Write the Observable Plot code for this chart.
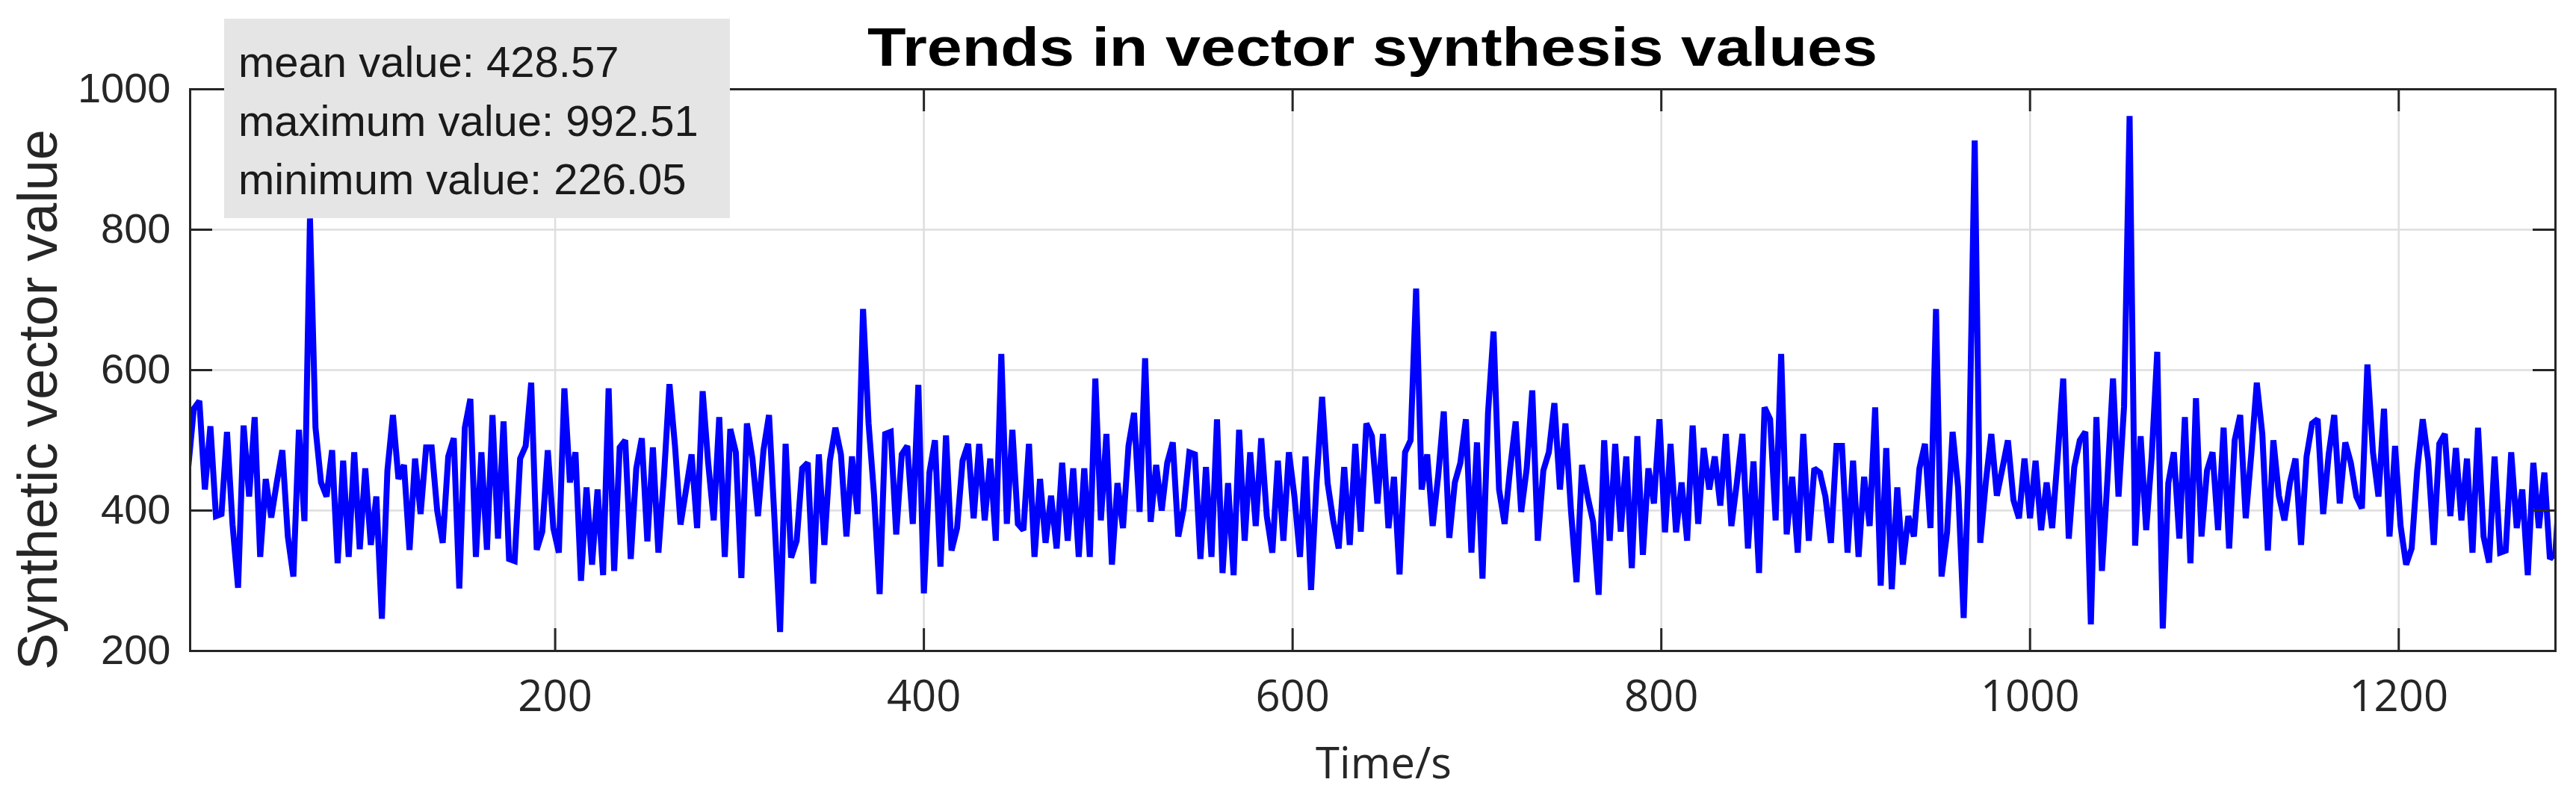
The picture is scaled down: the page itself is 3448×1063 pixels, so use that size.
<!DOCTYPE html>
<html>
<head>
<meta charset="utf-8">
<script src="https://cdn.jsdelivr.net/npm/d3@7"></script>
<script src="https://cdn.jsdelivr.net/npm/@observablehq/plot@0.6"></script>
<style>
html, body { margin: 0; padding: 0; background: #ffffff; }
#chart svg { display: block; }
</style>
</head>
<body>
<div id="chart"></div>
<script>
// ---- texts ----
const titleText = "Trends in vector synthesis values";
const xLabelText = "Time/s";
const yLabelText = "Synthetic vector value";
const statLines = ["mean value: 428.57", "maximum value: 992.51", "minimum value: 226.05"];

// ---- ticks ----
const xTicks = [200, 400, 600, 800, 1000, 1200];
const yTicks = [200, 400, 600, 800, 1000];
const xDomain = [2, 1285];
const yDomain = [200, 1000];

// ---- series: value read every 3 s starting at t = 1 ----
const tStart = 1;
const tStep = 3;
const values = [
  462, 545, 556, 430, 520, 392, 395, 512, 380, 290, 521, 420, 533, 334, 445, 390, 440, 486, 363, 306, 515, 385,
  816, 518, 440, 420, 486, 325, 471, 334, 483, 345, 460, 351, 420, 246, 457, 536, 445, 465, 344, 474, 395, 490,
  490, 400, 354, 477, 503, 289, 518, 559, 334, 483, 344, 536, 360, 527, 331, 328, 474, 492, 582, 344, 370, 486,
  375, 340, 574, 440, 483, 300, 433, 323, 430, 308, 574, 314, 490, 500, 331, 460, 503, 356, 490, 340, 448,
  580, 492, 380, 430, 480, 375, 570, 468, 386, 533, 334, 516, 483, 304, 524, 474, 392, 486, 536, 386, 227, 495,
  333, 357, 460, 468, 296, 480, 351, 471, 518, 480, 363, 477, 395, 687, 524, 421, 281, 509, 512, 366, 480,
  492, 381, 579, 282, 454, 500, 320, 507, 343, 375, 471, 495, 389, 495, 386, 474, 357, 623, 381, 515, 381, 372,
  495, 334, 445, 354, 421, 346, 468, 357, 460, 334, 460, 334, 588, 386, 509, 323, 439, 375, 492, 539, 398,
  617, 384, 465, 400, 468, 497, 363, 404, 483, 480, 331, 462, 334, 530, 311, 439, 308, 515, 357, 483, 378, 503,
  392, 340, 471, 357, 483, 420, 334, 477, 287, 440, 562, 439, 386, 346, 462, 351, 495, 370, 524, 506, 410, 509,
  375, 448, 309, 483, 500, 716, 430, 480, 378, 450, 541, 361, 440, 468, 530, 340, 497, 303, 539, 655, 430, 381,
  460, 527, 398, 460, 571, 357, 457, 483, 553, 430, 524, 400, 298, 465, 420, 384, 280, 500, 357, 495, 370,
  477, 318, 506, 337, 460, 410, 530, 369, 495, 369, 440, 357, 521, 381, 489, 430, 477, 407, 509, 378, 440, 509,
  346, 470, 311, 547, 530, 386, 623, 366, 448, 340, 509, 357, 460, 454, 420, 354, 492, 492, 340, 471, 334, 448,
  378, 547, 293, 489, 288, 433, 323, 392, 363, 460, 495, 375, 687, 306, 369, 512, 433, 247, 483, 927, 354, 440,
  509, 421, 460, 500, 415, 389, 474, 389, 471, 372, 440, 375, 477, 588, 360, 462, 500, 512, 238, 533, 314,
  445, 588, 420, 548, 962, 350, 506, 372, 477, 626, 232, 439, 483, 360, 533, 325, 560, 363, 457, 483, 372, 518,
  346, 500, 536, 389, 480, 582, 509, 343, 500, 421, 386, 440, 474, 351, 477, 524, 530, 395, 480, 536, 410,
  497, 468, 420, 403, 608, 483, 420, 545, 363, 492, 378, 323, 346, 457, 530, 471, 351, 495, 509, 392, 489, 386,
  474, 340, 518, 363, 326, 477, 340, 343, 483, 375, 430, 308, 468, 375, 454, 331, 340, 471
];
const series = values.map((v, i) => ({ t: tStart + i * tStep, v }));

// ---- layout ----
const W = 3448, H = 1063;
const mL = 254, mR = 28, mT = 119, mB = 192;
const fw = W - mL - mR, fh = H - mT - mB;
const tickLen = 30;
const axisColor = "#262626";
const gridColor = "#dedede";

const chart = Plot.plot({
  width: W,
  height: H,
  marginLeft: mL,
  marginRight: mR,
  marginTop: mT,
  marginBottom: mB,
  style: { background: "#ffffff", overflow: "visible" },
  x: { domain: xDomain, label: null },
  y: { domain: yDomain, label: null },
  marks: [
    Plot.gridX(xTicks, { stroke: gridColor, strokeOpacity: 1, strokeWidth: 2.5 }),
    Plot.gridY(yTicks, { stroke: gridColor, strokeOpacity: 1, strokeWidth: 2.5 }),
    Plot.lineY(series, { x: "t", y: "v", stroke: "#0000ff", strokeWidth: 8, clip: true, strokeLinejoin: "miter", strokeMiterlimit: 2 }),
    Plot.frame({ stroke: axisColor, strokeWidth: 3 }),
    Plot.tickX(xTicks, { x: d => d, stroke: axisColor, strokeWidth: 3, insetTop: fh - tickLen }),
    Plot.tickX(xTicks, { x: d => d, stroke: axisColor, strokeWidth: 3, insetBottom: fh - tickLen }),
    Plot.tickY(yTicks, { y: d => d, stroke: axisColor, strokeWidth: 3, insetRight: fw - tickLen }),
    Plot.tickY(yTicks, { y: d => d, stroke: axisColor, strokeWidth: 3, insetLeft: fw - tickLen }),
    Plot.axisX(xTicks, { anchor: "bottom", tickSize: 0, tickPadding: 39, tickFormat: d => String(d), fontSize: 58, fontFamily: "'Open Sans', 'Noto Sans', sans-serif", fill: "#262626", label: null }),
    Plot.axisY(yTicks, { anchor: "left", tickSize: 0, tickPadding: 26, tickFormat: d => String(d), fontSize: 56, fontFamily: "'Liberation Sans', Arial, sans-serif", fill: "#262626", label: null })
  ]
});

document.getElementById("chart").appendChild(chart);

const svg = d3.select(chart);

// title
svg.append("text")
  .attr("x", mL + fw / 2)
  .attr("y", 88)
  .attr("text-anchor", "middle")
  .attr("font-family", "'Liberation Sans', Arial, sans-serif")
  .attr("font-weight", "bold")
  .attr("font-size", 72)
  .attr("textLength", 1352)
  .attr("lengthAdjust", "spacingAndGlyphs")
  .attr("fill", "#000000")
  .text(titleText);

// x label
svg.append("text")
  .attr("x", mL + fw / 2 + 15)
  .attr("y", 1042)
  .attr("text-anchor", "middle")
  .attr("font-family", "'Open Sans', 'Noto Sans', sans-serif")
  .attr("font-size", 58)
  .attr("fill", "#262626")
  .text(xLabelText);

// y label
svg.append("text")
  .attr("transform", `translate(76, ${mT + fh / 2 + 40}) rotate(-90)`)
  .attr("text-anchor", "middle")
  .attr("font-family", "'Liberation Sans', Arial, sans-serif")
  .attr("font-size", 74)
  .attr("fill", "#262626")
  .text(yLabelText);

// statistics box
const box = svg.append("g").attr("text-anchor", "start");
box.append("rect")
  .attr("x", 300).attr("y", 25)
  .attr("width", 677).attr("height", 267)
  .attr("fill", "#e5e5e5");
statLines.forEach((s, i) => {
  box.append("text")
    .attr("x", 319)
    .attr("y", 103 + i * 78.5)
    .attr("text-anchor", "start")
    .attr("font-family", "'Liberation Sans', Arial, sans-serif")
    .attr("font-size", 58)
    .attr("fill", "#1a1a1a")
    .text(s);
});
</script>
</body>
</html>
